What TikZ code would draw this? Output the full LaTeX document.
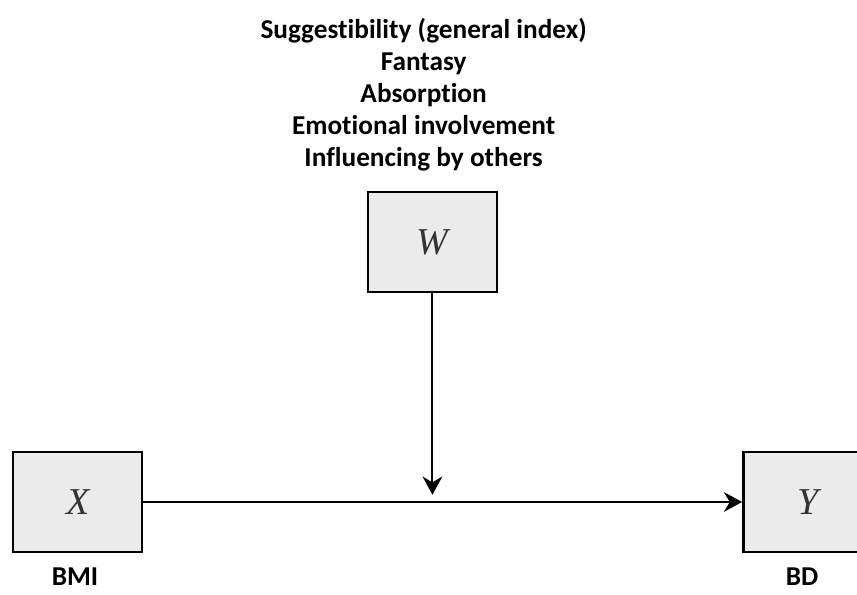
\documentclass[tikz,border=0pt]{standalone}
\usepackage{fontspec}
\setmainfont{Liberation Serif}
\newfontfamily\labelfont[Ligatures=NoCommon]{Carlito}
\usetikzlibrary{positioning,arrows.meta}
\usepackage{xcolor}
\definecolor{softgray}{HTML}{EBEBEB}
\definecolor{lettergray}{HTML}{333333}

\begin{document}
\begin{tikzpicture}[
  varbox/.style={draw,line width=1.9pt,fill=softgray,minimum width=3.225cm,minimum height=2.5cm,text=lettergray,font=\fontsize{27}{30}\selectfont\itshape},
  varlabel/.style={font=\labelfont\bfseries\fontsize{19.4}{22.8}\selectfont},
  path/.style={line width=1.4pt,-{Stealth[length=13pt,width=14pt]}}]
\useasboundingbox (0,0) rectangle (21.425,-14.875);
\clip (0,0) rectangle (21.425,-14.875);
% moderators
\node[varlabel,align=center] (mods) at (10.59,-2.375) {Suggestibility (general index)\\Fantasy\\Absorption\\Emotional involvement\\Influencing by others};
\node[varbox] (w) at (10.81,-6.05) {W};
% predictor and outcome
\node[varbox] (x) at (1.94,-12.55) {X};
\node[varbox] (y) at (20.2,-12.55) {Y};
\node[varlabel] (bmi) at (1.875,-14.425) {BMI};
\node[varlabel] (bd) at (20.05,-14.425) {BD};
\coordinate (meet) at (w.south |- x.east);
\draw[path] (x) -- (y);
\draw[path,shorten >=0.18cm] (w) -- (meet);
\end{tikzpicture}
\end{document}
